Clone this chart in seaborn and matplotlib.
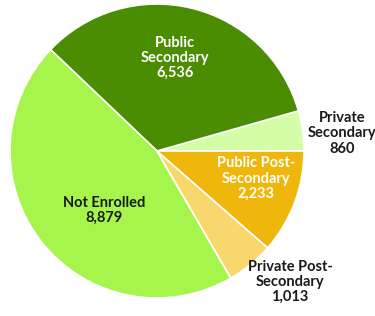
import numpy as np
import matplotlib.pyplot as plt
import seaborn as sns

sns.set_theme(style="white")
plt.rcParams['font.family'] = ['Lato', 'DejaVu Sans']

# slices listed counter-clockwise, starting at 3 o'clock
labels = ["Private\nSecondary", "Public\nSecondary", "Not Enrolled",
          "Private Post-\nSecondary", "Public Post-\nSecondary"]
values = [860, 6536, 8879, 1013, 2233]

colors = ["#d4fda8", "#4a8c02", "#a6f54c", "#f8d86c", "#efb60b"]
text_colors = ["#1a1a1a", "white", "#1a1a1a", "#1a1a1a", "white"]
# (distance from centre in radii, angle tweak in degrees) for each label
label_pos = [(1.265, -2.5), (0.645, 3), (0.54, 10), (1.27, 6), (0.70, 5)]

fig = plt.figure(figsize=(3.75, 3.16), dpi=100)
ax = fig.add_axes([0, 0, 1, 1])
wedges, _ = ax.pie(values, colors=colors, startangle=0, counterclock=True,
                   wedgeprops=dict(edgecolor="white", linewidth=1.2))

for w, lab, val, tc, (d, dt) in zip(wedges, labels, values, text_colors, label_pos):
    ang = np.deg2rad((w.theta1 + w.theta2) / 2 + dt)
    ax.text(d * np.cos(ang), d * np.sin(ang), f"{lab}\n{val:,}",
            ha="center", va="center", color=tc, fontsize=10.5,
            fontweight="bold", linespacing=1.12)

ax.set_xlim(-157 / 147, 218 / 147)
ax.set_ylim(-165 / 147, 151 / 147)
ax.set_axis_off()

fig.savefig("out.png", dpi=100)
plt.close()
